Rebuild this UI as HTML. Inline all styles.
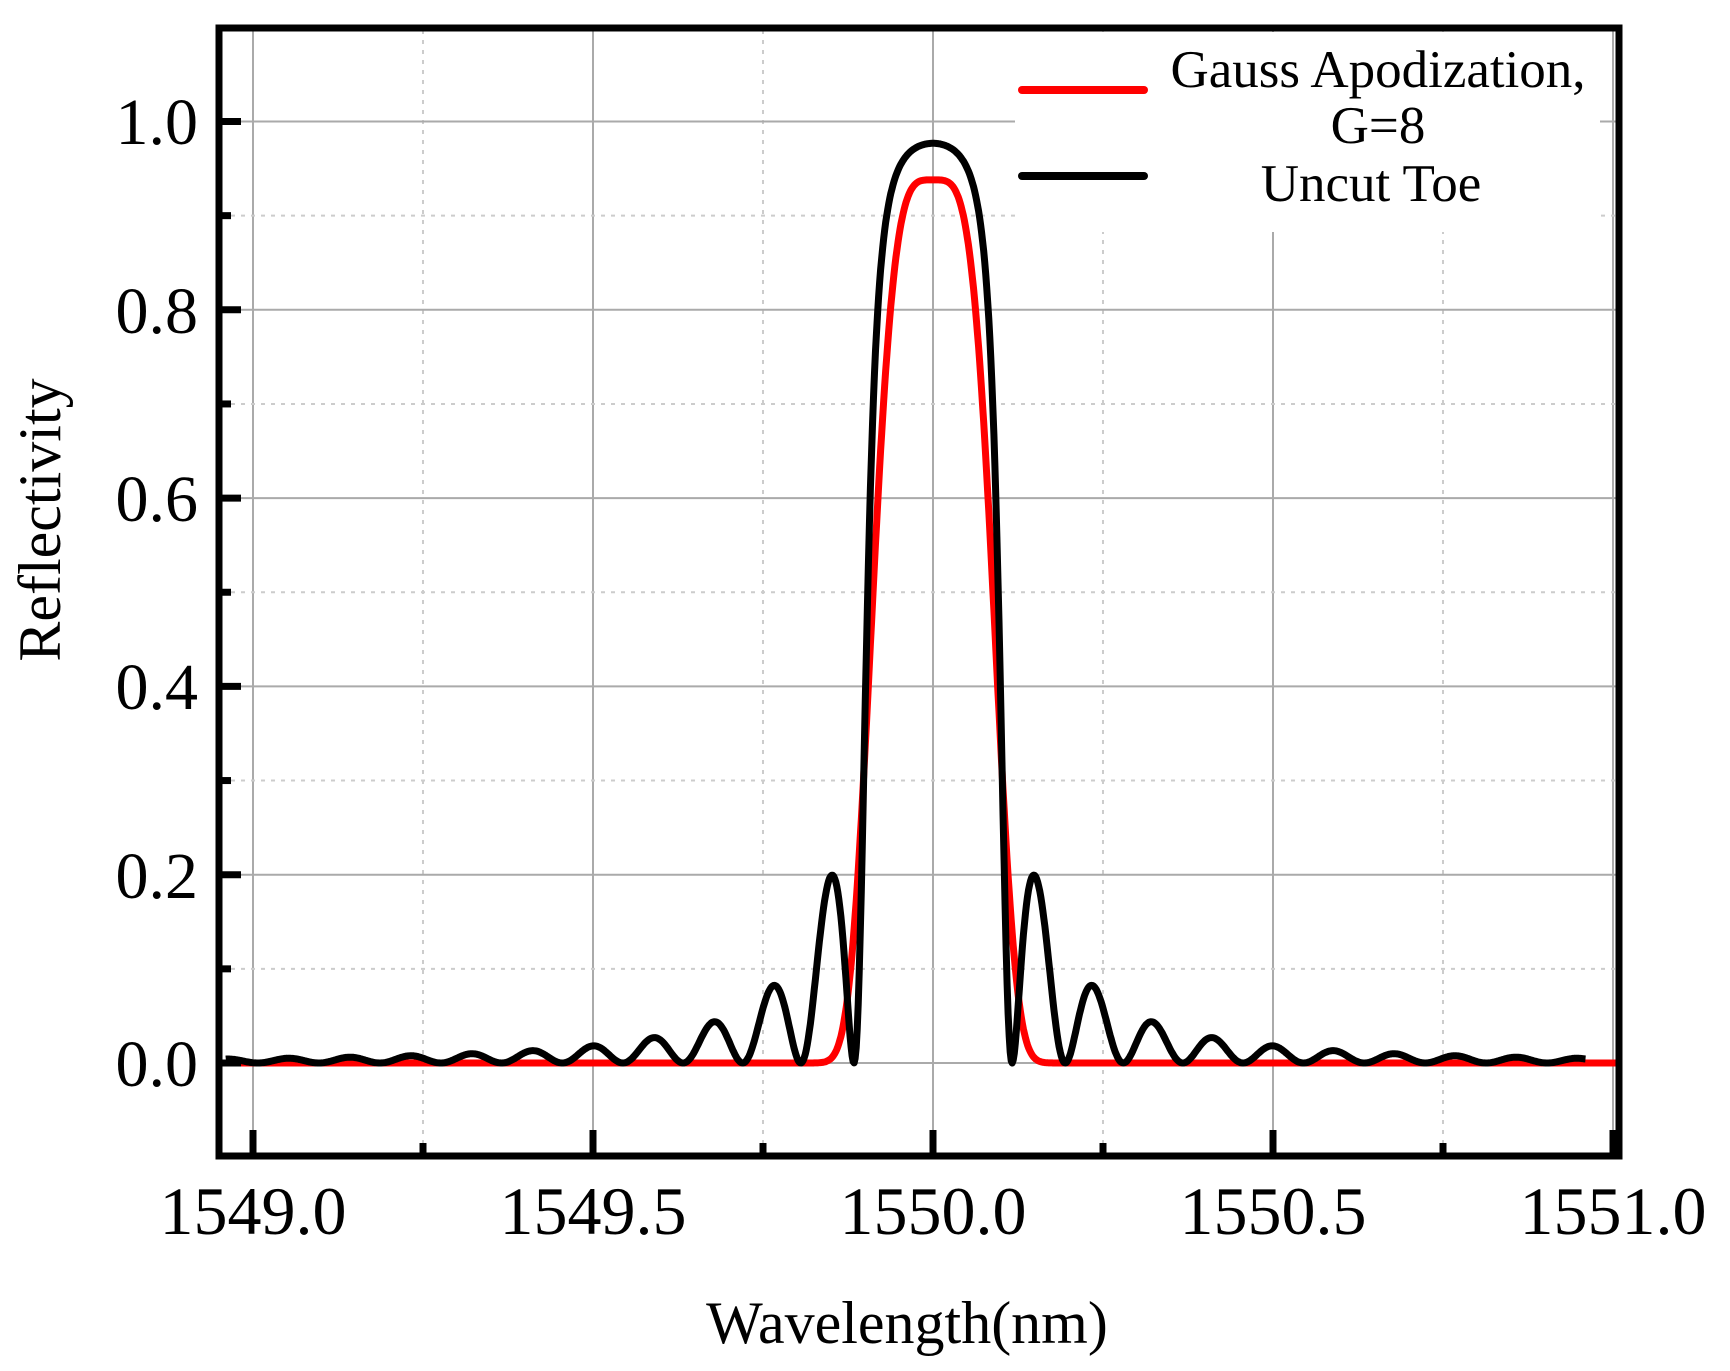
<!DOCTYPE html>
<html><head><meta charset="utf-8"><style>
html,body{margin:0;padding:0;background:#fff;}
svg{display:block;}
text{font-family:"Liberation Serif",serif;fill:#000;}
</style></head><body>
<svg id="s" width="1730" height="1371" viewBox="0 0 1730 1371" xmlns="http://www.w3.org/2000/svg">
<g id="grid"></g>
<rect x="1015" y="32" width="585" height="200" fill="#fff"/>
<path id="red" fill="none" stroke="#ff0000" stroke-width="7" stroke-linejoin="round"/>
<path id="blk" fill="none" stroke="#000" stroke-width="7" stroke-linejoin="round"/>
<rect x="219" y="28" width="1400" height="1128" fill="none" stroke="#000" stroke-width="7"/>
<g id="ticks"></g>
<line x1="1022" y1="90" x2="1144" y2="90" stroke="#ff0000" stroke-width="8" stroke-linecap="round"/>
<line x1="1022" y1="176" x2="1144" y2="176" stroke="#000" stroke-width="8" stroke-linecap="round"/>
<text x="1378" y="87" font-size="53" text-anchor="middle">Gauss Apodization,</text>
<text x="1378" y="143" font-size="53" text-anchor="middle">G=8</text>
<text x="1371" y="201" font-size="53" text-anchor="middle">Uncut Toe</text>
<g font-size="66" text-anchor="end">
<text x="198" y="1086">0.0</text><text x="198" y="898">0.2</text><text x="198" y="709">0.4</text>
<text x="198" y="521">0.6</text><text x="198" y="333">0.8</text><text x="198" y="144">1.0</text>
</g>
<g font-size="68" text-anchor="middle">
<text x="253" y="1234">1549.0</text><text x="593" y="1234">1549.5</text><text x="933" y="1234">1550.0</text>
<text x="1273" y="1234">1550.5</text><text x="1613" y="1234">1551.0</text>
</g>
<text x="907" y="1343" font-size="60" text-anchor="middle">Wavelength(nm)</text>
<text transform="translate(60,520) rotate(-90)" font-size="60" text-anchor="middle">Reflectivity</text>
</svg>
<script>
var X=function(l){return 933+(l-1550)*680;},Y=function(r){return 1063-r*941.5;};
var g='',t='';
for(var i=0;i<=8;i++){var l=1549+i*0.25,x=X(l);var maj=i%2==0;
 g+='<line x1="'+x+'" y1="30" x2="'+x+'" y2="1154" stroke="'+(maj?'#aaa':'#ccc')+'" stroke-width="2" '+(maj?'':'stroke-dasharray="4,6"')+'/>';
 t+='<line x1="'+x+'" y1="1154" x2="'+x+'" y2="'+(maj?1130:1143)+'" stroke="#000" stroke-width="7"/>';}
for(var j=-1;j<=11;j++){var r=j*0.1,y=Y(r);if(y<30||y>1154)continue;var maj=j%2==0;
 g+='<line x1="221" y1="'+y+'" x2="1617" y2="'+y+'" stroke="'+(maj?'#aaa':'#ccc')+'" stroke-width="2" '+(maj?'':'stroke-dasharray="4,6"')+'/>';
 t+='<line x1="221" y1="'+y+'" x2="'+(maj?241:231)+'" y2="'+y+'" stroke="#000" stroke-width="7"/>';}
document.getElementById('grid').innerHTML=g;document.getElementById('ticks').innerHTML=t;
var k=2.57,pb='',pr='',z=Math.sqrt(k*k+Math.PI*Math.PI);
for(var l=1548.96;l<=1550.96;l+=0.0015){var d=(l-1550)*34.9,r;var s2=k*k-d*d;
 if(s2>0){var s=Math.sqrt(s2),sh=Math.sinh(s);r=k*k*sh*sh/(d*d*sh*sh+s2*Math.cosh(s)*Math.cosh(s));}
 else{var q=Math.sqrt(-s2),sn=Math.sin(q);r=k*k*sn*sn/(d*d-k*k*Math.cos(q)*Math.cos(q));if(Math.abs(d)>z)r*=0.84;}
 pb+=(pb?'L':'M')+X(l).toFixed(1)+' '+Y(r).toFixed(1);}
for(var l=1548.96;l<=1551.01;l+=0.0015){var d=Math.abs(l-1550)/0.099;var r=0.938*Math.exp(-Math.pow(d,4));
 pr+=(pr?'L':'M')+X(l).toFixed(1)+' '+Y(r).toFixed(1);}
document.getElementById('blk').setAttribute('d',pb);document.getElementById('red').setAttribute('d',pr);
</script>
</body></html>
